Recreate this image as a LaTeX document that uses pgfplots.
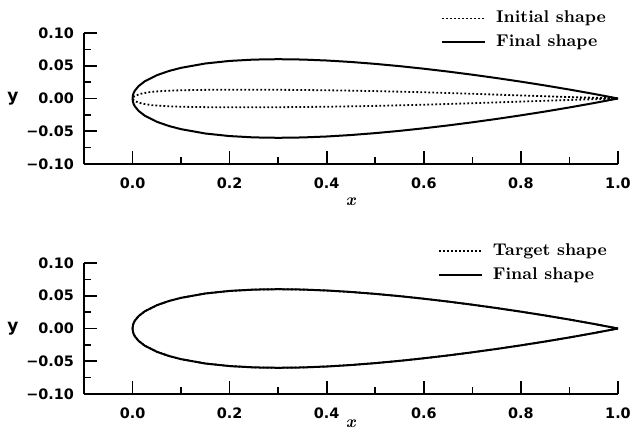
\documentclass[border=0pt]{standalone}
\usepackage{pgfplots}
\pgfplotsset{compat=1.18}
\usepackage{fontspec}
\setsansfont{DejaVu Sans}

% airfoil outlines, traced from trailing edge over the top and back underneath
\pgfplotstableread{
x y
1.0 0.0
0.95 0.00704
0.9 0.01365
0.85 0.01987
0.8 0.02571
0.75 0.0312
0.7 0.03634
0.65 0.04111
0.6 0.04547
0.55 0.04941
0.5 0.05286
0.45 0.05576
0.4 0.0580
0.35 0.05947
0.3 0.06001
0.25 0.05941
0.2 0.05737
0.15 0.05345
0.1 0.04683
0.075 0.042
0.05 0.03555
0.025 0.02615
0.0125 0.01894
0.005 0.01221
0.0025 0.00872
0.001 0.00556
0.0 0.0
0.001 -0.00556
0.0025 -0.00872
0.005 -0.01221
0.0125 -0.01894
0.025 -0.02615
0.05 -0.03555
0.075 -0.042
0.1 -0.04683
0.15 -0.05345
0.2 -0.05737
0.25 -0.05941
0.3 -0.06001
0.35 -0.05947
0.4 -0.0580
0.45 -0.05576
0.5 -0.05286
0.55 -0.04941
0.6 -0.04547
0.65 -0.04111
0.7 -0.03634
0.75 -0.0312
0.8 -0.02571
0.85 -0.01987
0.9 -0.01365
0.95 -0.00704
1.0 0.0
}\finalshape

\pgfplotstableread{
x y
1.0 0.0
0.9 0.0022
0.8 0.0047
0.7 0.0072
0.6 0.0095
0.5 0.0113
0.4 0.0126
0.3 0.0133
0.2 0.0135
0.15 0.0132
0.1 0.0126
0.07 0.0118
0.04 0.0103
0.02 0.0078
0.008 0.005
0.003 0.003
0.0 0.0
0.003 -0.003
0.008 -0.005
0.02 -0.0078
0.04 -0.0103
0.07 -0.0118
0.1 -0.0126
0.15 -0.0132
0.2 -0.0135
0.3 -0.0133
0.4 -0.0126
0.5 -0.0113
0.6 -0.0095
0.7 -0.0072
0.8 -0.0047
0.9 -0.0022
1.0 0.0
}\initshape

\pgfplotsset{
  foil/.style={
    scale only axis,
    width=267pt, height=65.5pt,
    xmin=-0.1, xmax=1.0,
    ymin=-0.1, ymax=0.1,
    axis x line*=bottom, axis y line*=left,
    axis line style={-, line width=0.8pt},
    tick align=inside,
    major tick length=6.75pt, minor tick length=3.5pt,
    every tick/.style={black, line width=0.8pt},
    xtick={0,0.2,0.4,0.6,0.8,1.0},
    xticklabels={0.0,0.2,0.4,0.6,0.8,1.0},
    minor xtick={0.1,0.3,0.5,0.7,0.9},
    ytick={-0.1,-0.05,0,0.05,0.1},
    yticklabels={−0.10,−0.05,0.00,0.05,0.10},
    minor ytick={-0.075,-0.025,0.025,0.075},
    tick label style={font=\sffamily\bfseries\fontsize{7.2}{8}\selectfont},
    xticklabel style={yshift=-3.5pt},
    yticklabel style={xshift=-1.5pt},
    xlabel={\textbf{\textit{x}}},
    ylabel={\sffamily\bfseries y},
    label style={font=\fontsize{8.5}{10}\selectfont},
    xlabel style={at={(axis description cs:0.5,0)}, anchor=center, yshift=-19pt},
    ylabel style={at={(axis description cs:0,0.5)}, rotate=-90, anchor=center, xshift=-35.5pt},
    legend cell align=left,
    legend style={draw=none, fill=none, inner sep=0pt, anchor=north west,
      font=\bfseries\fontsize{8.5}{10}\selectfont, row sep=0.5pt,
      /tikz/every odd column/.append style={column sep=3pt}},
    legend image code/.code={\draw[#1] (0pt,0pt) -- (21.5pt,0pt);},
    clip=false,
  },
  finalline/.style={black, line width=1pt},
  dotline/.style={black, line width=0.9pt, dash pattern=on 0.9pt off 1.1pt},
}

\begin{document}
\begin{tikzpicture}
\useasboundingbox (-42pt,-20pt) rectangle (274pt,197pt);

\begin{axis}[foil, at={(0pt,115pt)}, anchor=south west,
  legend style={at={(axis description cs:0.668,1.20)}}]
\addplot[dotline] table {\initshape};
\addlegendentry{Initial shape}
\addplot[finalline] table {\finalshape};
\addlegendentry{Final shape}
\end{axis}

\begin{axis}[foil, at={(0pt,0pt)}, anchor=south west,
  xlabel style={yshift=4pt},
  legend style={at={(axis description cs:0.662,1.18)}}]
\addplot[dotline] table {\finalshape};
\addlegendentry{Target shape}
\addplot[finalline] table {\finalshape};
\addlegendentry{Final shape}
\end{axis}
\end{tikzpicture}
\end{document}
